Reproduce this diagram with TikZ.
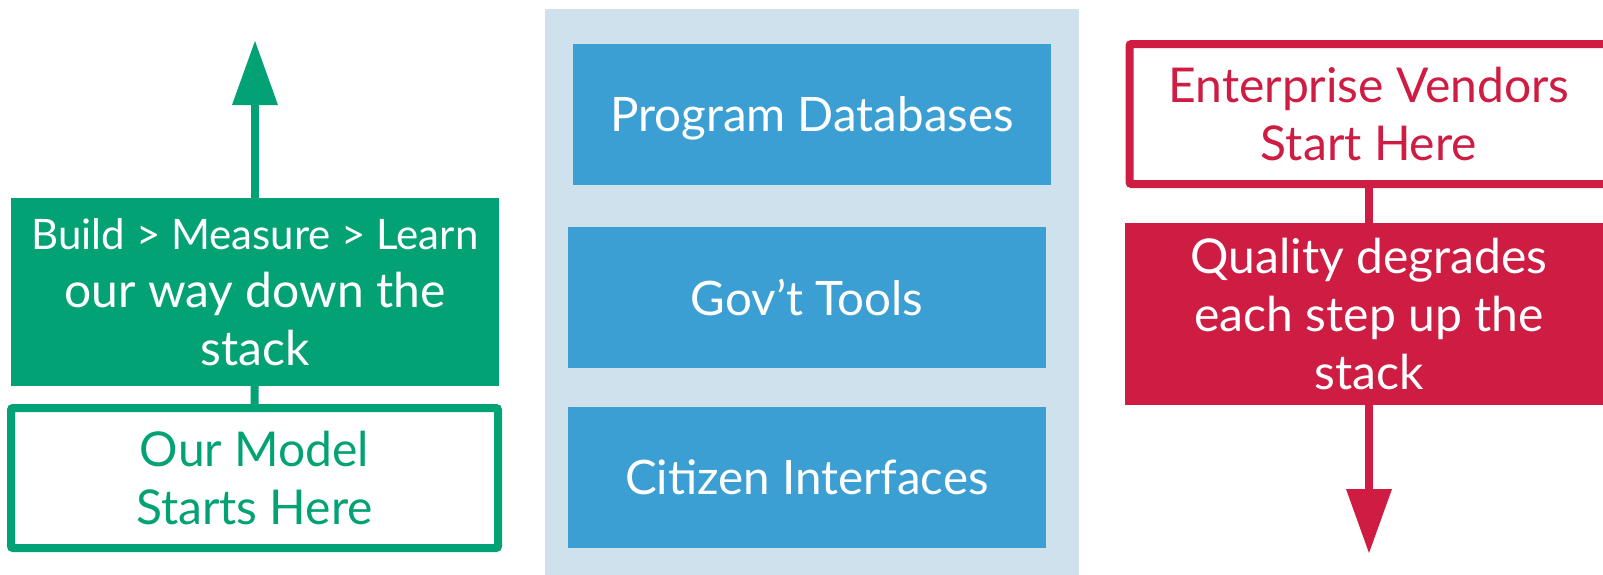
\documentclass[tikz,border=0pt]{standalone}
\usepackage{fontspec}
\setmainfont{Lato}
\usetikzlibrary{arrows.meta}

\definecolor{leangreen}{HTML}{03A275}
\definecolor{layerblue}{HTML}{3B9FD3}
\definecolor{stackbg}{HTML}{CFE1EC}
\definecolor{vendorred}{HTML}{CE1C43}

\tikzset{
  layer/.style={fill=layerblue, text=white, inner sep=0pt,
    minimum width=478pt, minimum height=141pt, text depth=0pt,
    font=\fontsize{47.5}{58}\selectfont},
  solidbox/.style={fill=#1, text=white, inner sep=0pt, align=center,
    minimum width=488pt, font=\fontsize{48}{58}\selectfont},
  openbox/.style={draw=#1, fill=white, text=#1, line width=8pt,
    rounded corners=2pt, inner sep=0pt, align=center,
    minimum height=140pt, font=\fontsize{48}{58}\selectfont},
  flow/.style={draw=#1, line width=8pt},
  bigtip/.style={-{Triangle[width=46pt,length=64pt,line width=0pt]}},
}

\begin{document}
\begin{tikzpicture}[x=1pt,y=-1pt]
\useasboundingbox (0,0) rectangle (1603,574);
\clip (0,0) rectangle (1603,574);

% the stack in the middle
\fill[stackbg] (545,9) rectangle (1079,580);
\node[layer] (db) at (812,114.5) {Program Databases};
\node[layer] (tools) at (807,297.5) {Gov’t Tools};
\node[layer] (citizen) at (807,477.5) {Citizen Interfaces};

% left: build up from the bottom
\node[openbox=leangreen, minimum width=487pt] (model) at (254.5,478)
  {Our Model\\Starts Here};
\node[solidbox=leangreen, minimum height=188pt] (build) at (255,292)
  {{\fontsize{42}{58}\selectfont Build > Measure > Learn}\\our way down the\\stack};
\coordinate (buildtip) at (255,41);
\draw[flow=leangreen] (model) -- (build);
\draw[flow=leangreen, bigtip] (build) -- (buildtip);

% right: vendors come in from the top
\node[openbox=vendorred, minimum width=479pt] (vendor) at (1369,114)
  {Enterprise Vendors\\Start Here};
\node[solidbox=vendorred, minimum height=182pt] (quality) at (1369,314)
  {Quality degrades\\each step up the\\stack};
\coordinate (qualitytip) at (1369,553);
\draw[flow=vendorred] (vendor) -- (quality);
\draw[flow=vendorred, bigtip] (quality) -- (qualitytip);
\end{tikzpicture}
\end{document}
